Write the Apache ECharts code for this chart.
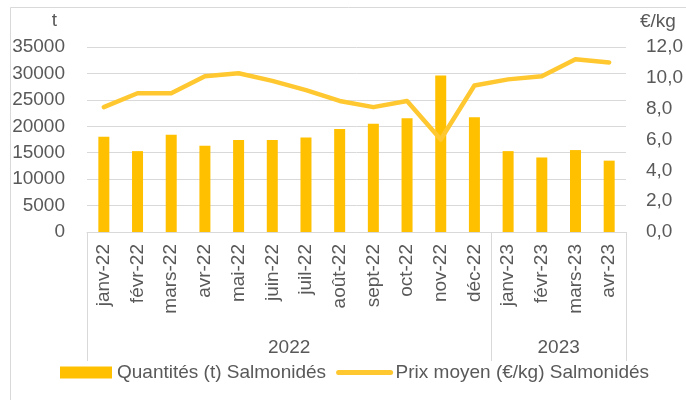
<!DOCTYPE html>
<html>
<head>
<meta charset="utf-8">
<script src="https://cdn.jsdelivr.net/npm/echarts@6/dist/echarts.min.js"></script>
<style>
  html, body { margin: 0; padding: 0; background: #fff; }
  #chart { width: 686px; height: 400px; }
</style>
</head>
<body>
<div id="chart"></div>
<script>
// months shown on the x axis
var months = ['janv-22', 'févr-22', 'mars-22', 'avr-22', 'mai-22', 'juin-22', 'juil-22', 'août-22',
  'sept-22', 'oct-22', 'nov-22', 'déc-22', 'janv-23', 'févr-23', 'mars-23', 'avr-23'];
// quantities (t)
var quantites = [18000, 15300, 18400, 16300, 17400, 17400, 17900, 19500, 20500, 21500, 29600, 21700, 15300, 14100, 15500, 13500];
// average price (€/kg)
var prix = [8.1, 9.0, 9.0, 10.1, 10.3, 9.8, 9.2, 8.5, 8.1, 8.5, 6.0, 9.5, 9.9, 10.1, 11.2, 11.0];
// year groups under the months
var years = ['2022', '2023'];
var yearSizes = [12, 4];

var serieNames = ['Quantités (t) Salmonidés', 'Prix moyen (€/kg) Salmonidés'];

// bounds and centers of each year group, in category units
var bounds = [0];
var centers = [];
yearSizes.forEach(function (n) {
    var start = bounds[bounds.length - 1];
    centers.push(start + n / 2);
    bounds.push(start + n);
});

var font = 'Liberation Sans';
var grey = '#595959';
var gridColor = '#d9d9d9';

var chart = echarts.init(document.getElementById('chart'));
var option = {
    animation: false,
    textStyle: { fontFamily: font },
    graphic: [{
        type: 'rect',
        left: 8,
        top: 5,
        shape: { width: 700, height: 420 },
        style: { fill: 'none', stroke: gridColor, lineWidth: 1 }
    }],
    grid: { left: 87, right: 58, top: 47, bottom: 168, containLabel: false },
    legend: {
        left: 55,
        top: 358,
        itemWidth: 52,
        itemHeight: 12,
        itemGap: 10,
        textStyle: { fontSize: 19, color: grey, fontFamily: font },
        data: [
            { name: serieNames[0], icon: 'rect' },
            {
                name: serieNames[1],
                itemStyle: { color: 'rgba(0,0,0,0)', borderWidth: 0 },
                lineStyle: { color: '#FFC830', width: 5 }
            }
        ]
    },
    xAxis: [{
        type: 'category',
        data: months,
        axisLine: { lineStyle: { color: gridColor } },
        axisTick: { show: false },
        axisLabel: { rotate: 90, margin: 12, fontSize: 19, color: grey, interval: 0 }
    }, {
        type: 'value',
        min: 0,
        max: months.length,
        position: 'bottom',
        axisLine: { show: false },
        splitLine: { show: false },
        axisTick: {
            show: true,
            customValues: bounds,
            length: 129,
            lineStyle: { color: gridColor }
        },
        axisLabel: {
            customValues: centers,
            margin: 106,
            fontSize: 19,
            color: grey,
            formatter: function (v) {
                var i = centers.indexOf(v);
                return i >= 0 ? years[i] : '';
            }
        }
    }],
    yAxis: [{
        type: 'value',
        min: 0,
        max: 35000,
        interval: 5000,
        name: 't',
        nameGap: 17,
        nameTextStyle: { fontSize: 19, color: grey, align: 'right', padding: [0, 30, 0, 0] },
        axisLine: { show: false },
        axisTick: { show: false },
        axisLabel: {
            fontSize: 19,
            color: grey,
            margin: 22,
            formatter: function (v) { return String(v); }
        },
        splitLine: { lineStyle: { color: gridColor } }
    }, {
        type: 'value',
        min: 0,
        max: 12,
        interval: 2,
        name: '€/kg',
        nameGap: 16,
        nameTextStyle: { fontSize: 19, color: grey, align: 'left', padding: [0, 0, 0, 14] },
        axisLine: { show: false },
        axisTick: { show: false },
        splitLine: { show: false },
        axisLabel: {
            fontSize: 19,
            color: grey,
            margin: 20,
            formatter: function (v) { return v.toFixed(1).replace('.', ','); }
        }
    }],
    series: [{
        name: serieNames[0],
        type: 'bar',
        xAxisIndex: 0,
        yAxisIndex: 0,
        barWidth: 11,
        itemStyle: { color: '#FFC000' },
        data: quantites
    }, {
        name: serieNames[1],
        type: 'line',
        xAxisIndex: 0,
        yAxisIndex: 1,
        symbol: 'none',
        showSymbol: false,
        lineStyle: { color: '#FFC830', width: 4.5, cap: 'round', join: 'round' },
        itemStyle: { color: '#FFC830' },
        data: prix
    }]
};
chart.setOption(option);
</script>
</body>
</html>
